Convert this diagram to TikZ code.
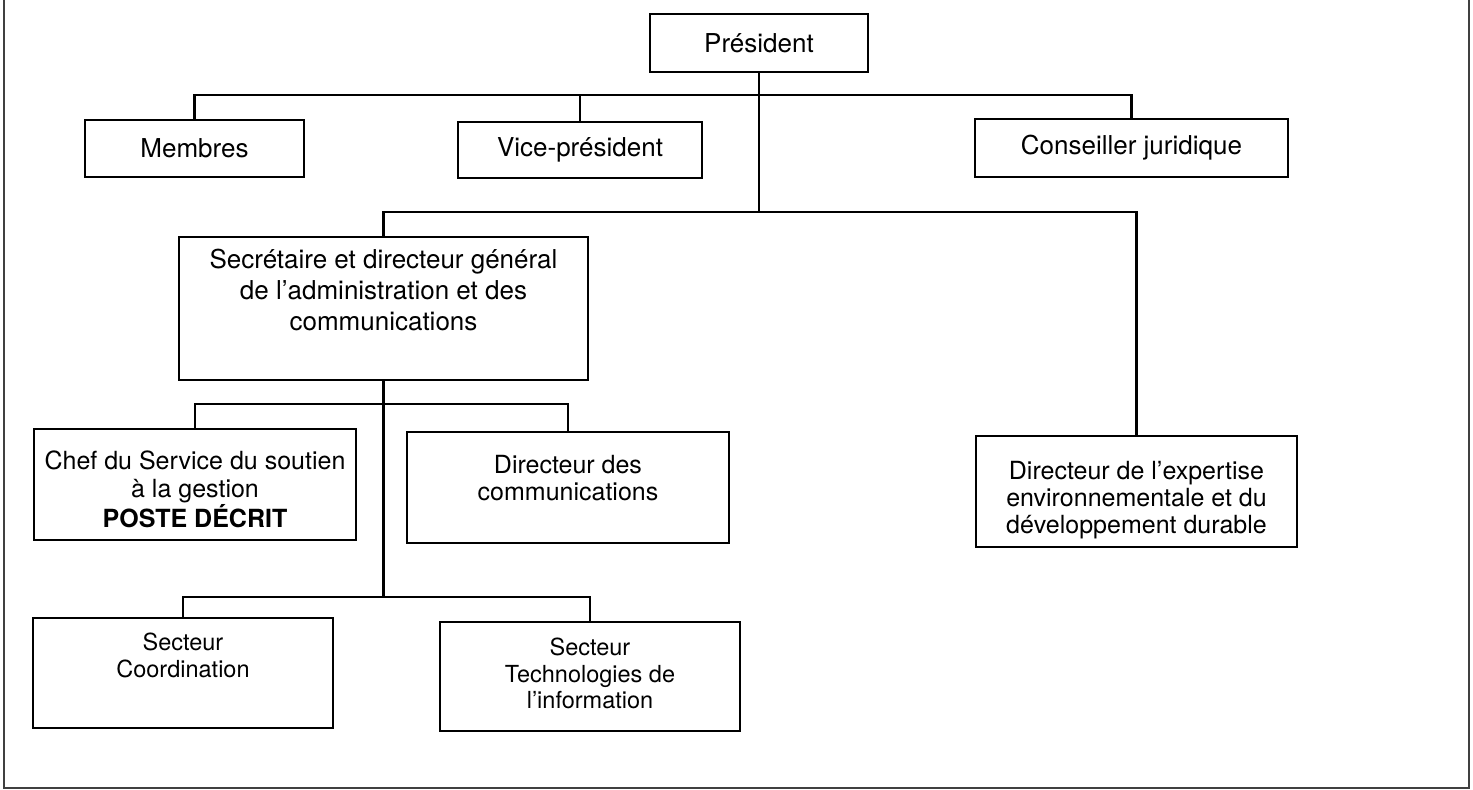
\documentclass[tikz,border=0pt]{standalone}
\usepackage{fontspec}
\setmainfont{TeX Gyre Heros}
\newcommand{\boxtext}[4]{\parbox[c][#2][t]{#1}{\centering\vspace*{#3}#4\par}}

\begin{document}
\begin{tikzpicture}[x=1pt,y=-1pt]
\tikzstyle{post}=[draw, line width=2.4pt, inner sep=0pt, font=\fontsize{26}{29}\selectfont]
\tikzstyle{link}=[line width=2.2pt]
\useasboundingbox (0,0) rectangle (1473,790);

	\node[post, minimum width=218pt, minimum height=58pt] (pres) at (759,43) {Président};
	\node[post, minimum width=219pt, minimum height=57pt] (memb) at (194.5,148.5) {Membres};
	\node[post, minimum width=244pt, minimum height=56pt] (vice) at (580,150) {Vice-président};
	\node[post, minimum width=313pt, minimum height=58pt] (cons) at (1131.5,148) {Conseiller juridique};

	\node[post, font=\fontsize{26}{31}\selectfont] (sec) at (383.5,308.5)
		{\boxtext{409pt}{143pt}{12pt}{Secrétaire et directeur général\\ de l’administration et des\\ communications}};

	\node[post, font=\fontsize{25}{28}\selectfont] (chef) at (195,484.5)
		{\boxtext{322pt}{111pt}{22pt}{Chef du Service du soutien\\ à la gestion\\ \textbf{POSTE DÉCRIT}}};
	\node[post, font=\fontsize{25}{27}\selectfont] (dcom) at (568,487.5)
		{\boxtext{322pt}{111pt}{23pt}{Directeur des\\ communications}};
	\node[post, font=\fontsize{25}{27}\selectfont] (expt) at (1136.5,491.5)
		{\boxtext{321pt}{111pt}{25pt}{Directeur de l’expertise\\ environnementale et du\\ développement durable}};

	\node[post, font=\fontsize{23.5}{26.5}\selectfont] (coord) at (183,673)
		{\boxtext{300pt}{110pt}{15pt}{Secteur\\ Coordination}};
	\node[post, font=\fontsize{23.5}{26.5}\selectfont] (tech) at (590,676.5)
		{\boxtext{300pt}{109pt}{16pt}{Secteur\\ Technologies de\\ l’information}};

	% bus lines
	\coordinate (top) at (759,95);
	\coordinate (mid) at (759,212);
	\coordinate (sub) at (383.5,404);
	\coordinate (low) at (383.5,597);

	\draw[link] (memb.north) |- (top) -| (cons.north);
	\draw[link] (vice.north) -- (vice.north |- top);
	\draw[link] (pres.south) -- (mid);
	\draw[link] (sec.north) |- (mid) -| (expt.north);
	\draw[link] (chef.north) |- (sub) -| (dcom.north);
	\draw[link] (sec.south) -- (low);
	\draw[link] (coord.north) |- (low) -| (tech.north);

	\draw[line width=1.8pt, black!75] (4,0) -- (4,788) -- (1469,788) -- (1469,0);
\end{tikzpicture}
\end{document}
